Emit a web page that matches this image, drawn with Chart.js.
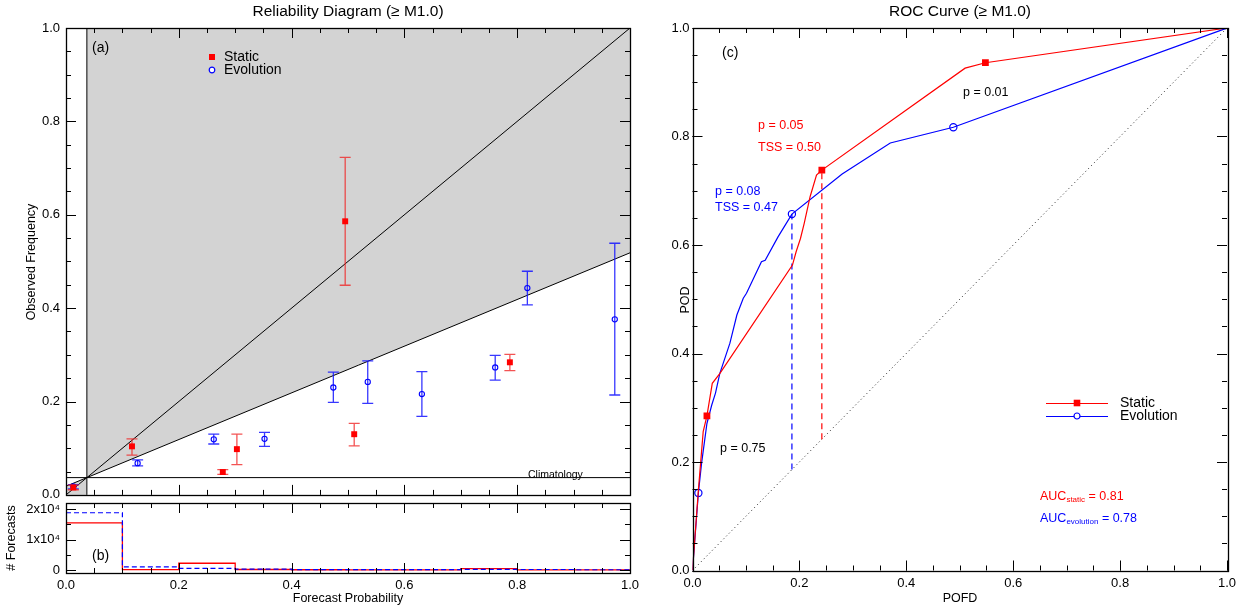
<!DOCTYPE html>
<html>
<head>
<meta charset="utf-8">
<script src="https://cdn.jsdelivr.net/npm/chart.js@4.4.0/dist/chart.umd.min.js"></script>
<style>
    html, body { margin: 0; padding: 0; background: #fff; }
    #wrap { position: relative; width: 1256px; height: 607px; }
    canvas { position: absolute; }
</style>
</head>
<body>
<div id="wrap">
    <canvas id="rel" width="640" height="500" style="left:0;top:0"></canvas>
    <canvas id="hist" width="640" height="107" style="left:0;top:500px"></canvas>
    <canvas id="roc" width="616" height="607" style="left:640px;top:0"></canvas>
</div>
<script>
// ---- reliability diagram ----
const climatology = 0.037;
const staticProb = [0.013, 0.117, 0.278, 0.303, 0.495, 0.511, 0.787];
const staticFreq = [0.016, 0.104, 0.049, 0.098, 0.586, 0.130, 0.284];
const staticLow = [0.011, 0.085, 0.044, 0.065, 0.449, 0.105, 0.266];
const staticHigh = [0.021, 0.120, 0.054, 0.130, 0.723, 0.153, 0.301];
const evoProb = [0.013, 0.127, 0.262, 0.352, 0.474, 0.535, 0.631, 0.761, 0.818, 0.973];
const evoFreq = [0.018, 0.068, 0.119, 0.120, 0.230, 0.242, 0.216, 0.273, 0.443, 0.376];
const evoLow = [0.013, 0.062, 0.109, 0.104, 0.198, 0.196, 0.168, 0.246, 0.407, 0.214];
const evoHigh = [0.022, 0.075, 0.130, 0.134, 0.263, 0.287, 0.264, 0.299, 0.479, 0.539];

// ---- forecast histogram ----
const binEdges = [0.0, 0.1, 0.2, 0.3, 0.4, 0.5, 0.6, 0.7, 0.8, 0.9, 1.0];
const staticCounts = [15500, 100, 2200, 150, 60, 40, 40, 450, 30, 0];
const evoCounts = [18800, 1000, 550, 250, 120, 100, 100, 200, 150, 60];
const histTicks = [0, 10000, 20000];
const histTickLabels = ["0", "1x10\u2074", "2x10\u2074"];

// ---- ROC curve ----
const staticPofd = [0, 0.011, 0.020, 0.027, 0.037, 0.051, 0.187, 0.194, 0.202, 0.209, 0.220, 0.232, 0.242, 0.510, 0.548, 1];
const staticPod = [0, 0.148, 0.256, 0.285, 0.345, 0.363, 0.563, 0.588, 0.612, 0.640, 0.689, 0.729, 0.738, 0.926, 0.936, 1];
const staticMarks = [3, 12, 14];
const evoPofd = [0, 0.011, 0.017, 0.027, 0.036, 0.043, 0.051, 0.070, 0.083, 0.095, 0.101, 0.129, 0.136, 0.160, 0.186, 0.280, 0.370, 0.488, 1];
const evoPod = [0, 0.143, 0.198, 0.271, 0.305, 0.327, 0.363, 0.419, 0.471, 0.502, 0.511, 0.569, 0.572, 0.615, 0.657, 0.731, 0.788, 0.817, 1];
const evoMarks = [1, 14, 17];
const staticBest = 12; // p = 0.05
const evoBest = 14;    // p = 0.08

const FONT = "'Liberation Sans', Arial, Helvetica, sans-serif";
Chart.defaults.font.family = FONT;
Chart.defaults.font.size = 13;
Chart.defaults.color = "#000";
Chart.defaults.animation = false;
Chart.defaults.responsive = false;
Chart.defaults.plugins.legend.display = false;
Chart.defaults.plugins.tooltip.enabled = false;
Chart.defaults.elements.line.tension = 0;

const zip = (xs, ys) => xs.map((x, i) => ({ x: x, y: ys[i] }));

// IDL-style frame with inward ticks on all four sides
const frameTicks = {
    id: "frameTicks",
    afterDatasetsDraw(chart, args, o) {
        const { ctx, chartArea: a } = chart;
        const sx = chart.scales.x, sy = chart.scales.y;
        ctx.save();
        ctx.strokeStyle = "#000";
        ctx.lineWidth = 1;
        ctx.beginPath();
        const mark = (scale, step, len, horiz) => {
            const n0 = Math.ceil(scale.min / step - 1e-6);
            const n1 = Math.floor(scale.max / step + 1e-6);
            for (let n = n0; n <= n1; n++) {
                const p = Math.round(scale.getPixelForValue(n * step)) + 0.5;
                if (horiz) {
                    ctx.moveTo(p, a.top); ctx.lineTo(p, a.top + len);
                    ctx.moveTo(p, a.bottom); ctx.lineTo(p, a.bottom - len);
                } else {
                    ctx.moveTo(a.left, p); ctx.lineTo(a.left + len, p);
                    ctx.moveTo(a.right, p); ctx.lineTo(a.right - len, p);
                }
            }
        };
        mark(sx, o.xMinor, 5, true);
        mark(sx, o.xMajor, 10, true);
        mark(sy, o.yMinor, 5, false);
        mark(sy, o.yMajor, 10, false);
        ctx.stroke();
        ctx.lineWidth = 1.3;
        ctx.strokeRect(Math.round(a.left) + 0.5, Math.round(a.top) + 0.5,
            Math.round(a.right - a.left), Math.round(a.bottom - a.top));
        ctx.restore();
    }
};

// error bars drawn right before their dataset so the markers sit on top
const errorBars = {
    id: "errorBars",
    beforeDatasetDraw(chart, args) {
        const ds = chart.data.datasets[args.index];
        if (!ds.errLow) return;
        const ctx = chart.ctx, sx = chart.scales.x, sy = chart.scales.y;
        ctx.save();
        ctx.strokeStyle = ds.errColor;
        ctx.lineWidth = 1.3;
        ctx.beginPath();
        ds.data.forEach((pt, i) => {
            const px = sx.getPixelForValue(pt.x);
            const lo = sy.getPixelForValue(ds.errLow[i]);
            const hi = sy.getPixelForValue(ds.errHigh[i]);
            ctx.moveTo(px, lo); ctx.lineTo(px, hi);
            ctx.moveTo(px - 5.5, lo); ctx.lineTo(px + 5.5, lo);
            ctx.moveTo(px - 5.5, hi); ctx.lineTo(px + 5.5, hi);
        });
        ctx.stroke();
        ctx.restore();
    }
};

// free text, legend keys and sub-scripted labels
const notes = {
    id: "notes",
    afterDraw(chart, args, o) {
        const ctx = chart.ctx;
        (o.items || []).forEach((t) => {
            ctx.save();
            ctx.translate(t.x, t.y);
            if (t.rotate) ctx.rotate(t.rotate);
            ctx.fillStyle = t.color || "#000";
            ctx.strokeStyle = t.color || "#000";
            if (t.line) {
                ctx.lineWidth = 1;
                ctx.beginPath();
                ctx.moveTo(t.line[0], 0.5); ctx.lineTo(t.line[1], 0.5);
                ctx.stroke();
            }
            if (t.mark === "rect") {
                ctx.fillRect(-t.r, -t.r, 2 * t.r, 2 * t.r);
            } else if (t.mark === "circle") {
                ctx.lineWidth = 1.2;
                ctx.fillStyle = "#fff";
                ctx.beginPath();
                ctx.arc(0, 0, t.r, 0, Math.PI * 2);
                ctx.fill();
                ctx.stroke();
            }
            ctx.textBaseline = "middle";
            ctx.fillStyle = t.textColor || t.color || "#000";
            if (t.text) {
                ctx.font = (t.size || 13) + "px " + FONT;
                ctx.textAlign = t.align || "left";
                ctx.fillText(t.text, t.dx || 0, 0);
            }
            if (t.parts) {
                let cx = 0;
                ctx.textAlign = "left";
                t.parts.forEach((p) => {
                    ctx.font = p.size + "px " + FONT;
                    ctx.fillText(p.text, cx, p.dy || 0);
                    cx += ctx.measureText(p.text).width;
                });
            }
            ctx.restore();
        });
    }
};

Chart.register(frameTicks, errorBars, notes);

const fixAxis = (w, h) => (scale) => {
    if (w !== null) scale.width = w;
    if (h !== null) scale.height = h;
    scale.paddingTop = 0; scale.paddingBottom = 0;
    scale.paddingLeft = 0; scale.paddingRight = 0;
};

const RED = "#ff0000";
const BLUE = "#0000ff";
const GREY = "#d3d3d3";

// ---------- (a) reliability ----------
const noSkillLow = [{ x: 0, y: climatology / 2 }, { x: climatology, y: climatology }];
const noSkillHigh = [{ x: climatology, y: climatology }, { x: 1, y: (1 + climatology) / 2 }];

new Chart(document.getElementById("rel"), {
    type: "line",
    data: {
        datasets: [
            {
                label: "Static",
                data: zip(staticProb, staticFreq),
                showLine: false,
                pointStyle: "rect",
                pointRadius: 4.2,
                backgroundColor: RED,
                borderColor: RED,
                borderWidth: 0,
                errLow: staticLow,
                errHigh: staticHigh,
                errColor: "rgba(240,40,40,0.8)",
            },
            {
                label: "Evolution",
                data: zip(evoProb, evoFreq),
                showLine: false,
                pointStyle: "circle",
                pointRadius: 2.6,
                backgroundColor: "rgba(0,0,0,0)",
                borderColor: BLUE,
                borderWidth: 1.1,
                errLow: evoLow,
                errHigh: evoHigh,
                errColor: "rgba(20,20,255,0.85)",
            },
            {
                data: [{ x: 0, y: 0 }, { x: 1, y: 1 }],
                borderColor: "#000", borderWidth: 1, pointRadius: 0,
            },
            {
                data: [{ x: 0, y: climatology }, { x: 1, y: climatology }],
                borderColor: "#000", borderWidth: 1, pointRadius: 0,
            },
            {
                data: [{ x: climatology, y: 0 }, { x: climatology, y: 1 }],
                borderColor: "#000", borderWidth: 1, pointRadius: 0,
            },
            {
                data: noSkillLow,
                borderColor: "#000", borderWidth: 1, pointRadius: 0,
                fill: "start", backgroundColor: GREY,
            },
            {
                data: noSkillHigh,
                borderColor: "#000", borderWidth: 1, pointRadius: 0,
                fill: "end", backgroundColor: GREY,
            },
        ],
    },
    options: {
        layout: { padding: { top: 28, right: 10, left: 0, bottom: 0 } },
        scales: {
            x: {
                type: "linear", min: 0, max: 1,
                grid: { display: false }, border: { display: false },
                ticks: { display: false },
                afterFit: fixAxis(null, 3),
            },
            y: {
                type: "linear", min: 0, max: 1,
                grid: { display: false, drawTicks: false }, border: { display: false },
                ticks: { stepSize: 0.2, padding: 6, callback: (v) => v.toFixed(1) },
                afterFit: fixAxis(66, null),
            },
        },
        plugins: {
            frameTicks: { xMajor: 0.2, xMinor: 0.05, yMajor: 0.2, yMinor: 0.05 },
            notes: {
                items: [
                    { text: "Reliability Diagram (\u2265 M1.0)", x: 348, y: 12, size: 15.5, align: "center" },
                    { text: "(a)", x: 92, y: 48, size: 14 },
                    { mark: "rect", r: 3, color: RED, textColor: "#000", x: 212, y: 57, text: "Static", dx: 12, size: 14 },
                    { mark: "circle", r: 2.8, color: BLUE, textColor: "#000", x: 212, y: 70, text: "Evolution", dx: 12, size: 14 },
                    { text: "Climatology", x: 528, y: 475, size: 10.5 },
                    { text: "Observed Frequency", x: 32, y: 262, size: 12.5, align: "center", rotate: -Math.PI / 2 },
                ],
            },
        },
    },
});

// ---------- (b) histogram ----------
const stepData = (counts) => binEdges.map((e, i) => ({ x: e, y: counts[Math.min(i, counts.length - 1)] }));

new Chart(document.getElementById("hist"), {
    type: "line",
    data: {
        datasets: [
            {
                data: stepData(evoCounts),
                stepped: "before",
                borderColor: BLUE, borderWidth: 1.2, borderDash: [5, 3],
                pointRadius: 0,
            },
            {
                data: stepData(staticCounts),
                stepped: "before",
                borderColor: RED, borderWidth: 1.3,
                pointRadius: 0,
            },
        ],
    },
    options: {
        layout: { padding: { top: 3, right: 10, left: 0, bottom: 0 } },
        scales: {
            x: {
                type: "linear", min: 0, max: 1,
                grid: { display: false, drawTicks: false }, border: { display: false },
                ticks: { stepSize: 0.2, padding: 5, maxRotation: 0, callback: (v) => v.toFixed(1) },
                afterFit: fixAxis(null, 34),
            },
            y: {
                type: "linear", min: -1000, max: 22000,
                grid: { display: false, drawTicks: false }, border: { display: false },
                ticks: {
                    padding: 6,
                    callback: (v) => histTickLabels[histTicks.indexOf(v)] || "",
                },
                afterBuildTicks: (scale) => { scale.ticks = histTicks.map((v) => ({ value: v })); },
                afterFit: fixAxis(66, null),
            },
        },
        plugins: {
            frameTicks: { xMajor: 0.2, xMinor: 0.05, yMajor: 10000, yMinor: 5000 },
            notes: {
                items: [
                    { text: "(b)", x: 92, y: 56, size: 14 },
                    { text: "# Forecasts", x: 12, y: 38, size: 12.5, align: "center", rotate: -Math.PI / 2 },
                    { text: "Forecast Probability", x: 348, y: 99, size: 12.5, align: "center" },
                ],
            },
        },
    },
});

// ---------- (c) ROC ----------
const markRadius = (marks, r) => (ctx) => (marks.includes(ctx.dataIndex) ? r : 0);

new Chart(document.getElementById("roc"), {
    type: "line",
    data: {
        datasets: [
            {
                label: "Static",
                data: zip(staticPofd, staticPod),
                borderColor: RED, borderWidth: 1.2,
                pointStyle: "rect",
                pointRadius: markRadius(staticMarks, 4.8),
                backgroundColor: RED, pointBorderWidth: 0,
            },
            {
                label: "Evolution",
                data: zip(evoPofd, evoPod),
                borderColor: BLUE, borderWidth: 1.2,
                pointStyle: "circle",
                pointRadius: markRadius(evoMarks, 3.6),
                backgroundColor: "rgba(0,0,0,0)", pointBorderWidth: 1.2,
            },
            {
                data: [{ x: staticPofd[staticBest], y: staticPofd[staticBest] }, { x: staticPofd[staticBest], y: staticPod[staticBest] }],
                borderColor: RED, borderWidth: 1.2, borderDash: [6, 4], pointRadius: 0,
            },
            {
                data: [{ x: evoPofd[evoBest], y: evoPofd[evoBest] }, { x: evoPofd[evoBest], y: evoPod[evoBest] }],
                borderColor: BLUE, borderWidth: 1.2, borderDash: [6, 4], pointRadius: 0,
            },
            {
                data: [{ x: 0, y: 0 }, { x: 1, y: 1 }],
                borderColor: "#222", borderWidth: 1, borderDash: [1, 3], pointRadius: 0,
            },
        ],
    },
    options: {
        layout: { padding: { top: 28, right: 29, left: 0, bottom: 0 } },
        scales: {
            x: {
                type: "linear", min: 0, max: 1,
                grid: { display: false, drawTicks: false }, border: { display: false },
                ticks: { stepSize: 0.2, padding: 5, maxRotation: 0, callback: (v) => v.toFixed(1) },
                afterFit: fixAxis(null, 36.5),
            },
            y: {
                type: "linear", min: 0, max: 1,
                grid: { display: false, drawTicks: false }, border: { display: false },
                ticks: { stepSize: 0.2, padding: 3, callback: (v) => v.toFixed(1) },
                afterFit: fixAxis(52.5, null),
            },
        },
        plugins: {
            frameTicks: { xMajor: 0.2, xMinor: 0.05, yMajor: 0.2, yMinor: 0.05 },
            notes: {
                items: [
                    { text: "ROC Curve (\u2265 M1.0)", x: 320, y: 12, size: 15.5, align: "center" },
                    { text: "(c)", x: 82, y: 53, size: 14 },
                    { text: "p = 0.05", x: 118, y: 126, size: 12.5, color: RED },
                    { text: "TSS = 0.50", x: 118, y: 148, size: 12.5, color: RED },
                    { text: "p = 0.08", x: 75, y: 192, size: 12.5, color: BLUE },
                    { text: "TSS = 0.47", x: 75, y: 208, size: 12.5, color: BLUE },
                    { text: "p = 0.01", x: 323, y: 93, size: 12.5 },
                    { text: "p = 0.75", x: 80, y: 449, size: 12.5 },
                    { line: [-31, 31], mark: "rect", r: 3.3, color: RED, x: 437, y: 403 },
                    { line: [-31, 31], mark: "circle", r: 3, color: BLUE, x: 437, y: 416 },
                    { text: "Static", x: 480, y: 403, size: 14 },
                    { text: "Evolution", x: 480, y: 416, size: 14 },
                    { x: 400, y: 497, color: RED, parts: [
                        { text: "AUC", size: 12.5 }, { text: "static", size: 8, dy: 3 }, { text: " = 0.81", size: 12.5 }] },
                    { x: 400, y: 519, color: BLUE, parts: [
                        { text: "AUC", size: 12.5 }, { text: "evolution", size: 8, dy: 3 }, { text: " = 0.78", size: 12.5 }] },
                    { text: "POD", x: 46, y: 300, size: 12.5, align: "center", rotate: -Math.PI / 2 },
                    { text: "POFD", x: 320, y: 599, size: 12.5, align: "center" },
                ],
            },
        },
    },
});
</script>
</body>
</html>
